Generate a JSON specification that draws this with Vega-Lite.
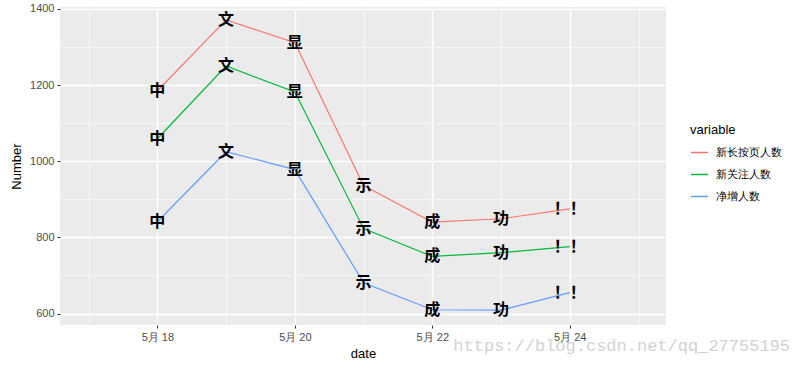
{
  "$schema": "https://vega.github.io/schema/vega-lite/v6.json",
  "width": 606,
  "height": 318,
  "autosize": {"type": "none"},
  "padding": {"left": 60, "top": 7, "right": 135, "bottom": 40},
  "title": {
    "text": "https://blog.csdn.net/qq_27755195",
    "orient": "bottom",
    "anchor": "end",
    "frame": "group",
    "font": "Liberation Mono",
    "fontSize": 17,
    "fontWeight": "normal",
    "color": "#D2D2D2",
    "dx": 124,
    "dy": -22,
    "offset": 0
  },
  "config": {
    "font": "Liberation Sans",
    "view": {"fill": "#EBEBEB", "stroke": null},
    "axis": {
      "domain": false,
      "gridColor": "#FFFFFF",
      "labelColor": "#4D4D4D",
      "labelFontSize": 11,
      "titleFontSize": 13,
      "titleColor": "#000000",
      "titleFontWeight": "normal",
      "tickColor": "#333333",
      "tickSize": 3,
      "labelPadding": 3
    }
  },
  "data": {
    "values": [
      {"date": "2018-05-18", "variable": "新长按页人数", "Number": 1185, "label": "中"},
      {"date": "2018-05-19", "variable": "新长按页人数", "Number": 1371, "label": "文"},
      {"date": "2018-05-20", "variable": "新长按页人数", "Number": 1311, "label": "显"},
      {"date": "2018-05-21", "variable": "新长按页人数", "Number": 936, "label": "示"},
      {"date": "2018-05-22", "variable": "新长按页人数", "Number": 840, "label": "成"},
      {"date": "2018-05-23", "variable": "新长按页人数", "Number": 849, "label": "功"},
      {"date": "2018-05-24", "variable": "新长按页人数", "Number": 875, "label": "！！"},
      {"date": "2018-05-18", "variable": "新关注人数", "Number": 1059, "label": "中"},
      {"date": "2018-05-19", "variable": "新关注人数", "Number": 1250, "label": "文"},
      {"date": "2018-05-20", "variable": "新关注人数", "Number": 1182, "label": "显"},
      {"date": "2018-05-21", "variable": "新关注人数", "Number": 823, "label": "示"},
      {"date": "2018-05-22", "variable": "新关注人数", "Number": 750, "label": "成"},
      {"date": "2018-05-23", "variable": "新关注人数", "Number": 760, "label": "功"},
      {"date": "2018-05-24", "variable": "新关注人数", "Number": 776, "label": "！！"},
      {"date": "2018-05-18", "variable": "净增人数", "Number": 841, "label": "中"},
      {"date": "2018-05-19", "variable": "净增人数", "Number": 1025, "label": "文"},
      {"date": "2018-05-20", "variable": "净增人数", "Number": 978, "label": "显"},
      {"date": "2018-05-21", "variable": "净增人数", "Number": 681, "label": "示"},
      {"date": "2018-05-22", "variable": "净增人数", "Number": 610, "label": "成"},
      {"date": "2018-05-23", "variable": "净增人数", "Number": 609, "label": "功"},
      {"date": "2018-05-24", "variable": "净增人数", "Number": 655, "label": "！！"}
    ]
  },
  "encoding": {
    "x": {
      "field": "date",
      "type": "temporal",
      "scale": {
        "type": "utc",
        "domain": [
          {"year": 2018, "month": 5, "date": 16, "hours": 14, "minutes": 0, "utc": true},
          {"year": 2018, "month": 5, "date": 25, "hours": 9, "minutes": 36, "utc": true}
        ]
      },
      "axis": {
        "title": "date",
        "values": [
          {"year": 2018, "month": 5, "date": 17, "utc": true},
          {"year": 2018, "month": 5, "date": 18, "utc": true},
          {"year": 2018, "month": 5, "date": 19, "utc": true},
          {"year": 2018, "month": 5, "date": 20, "utc": true},
          {"year": 2018, "month": 5, "date": 21, "utc": true},
          {"year": 2018, "month": 5, "date": 22, "utc": true},
          {"year": 2018, "month": 5, "date": 23, "utc": true},
          {"year": 2018, "month": 5, "date": 24, "utc": true},
          {"year": 2018, "month": 5, "date": 25, "utc": true}
        ],
        "labelExpr": "utcdate(datum.value) % 2 == 0 ? '5月 ' + utcdate(datum.value) : ''",
        "gridWidth": {"condition": {"test": "utcdate(datum.value) % 2 == 0", "value": 1.4}, "value": 0.6},
        "tickOpacity": {"condition": {"test": "utcdate(datum.value) % 2 == 0", "value": 1}, "value": 0},
        "titlePadding": 5
      }
    },
    "y": {
      "field": "Number",
      "type": "quantitative",
      "scale": {"domain": [570, 1405], "nice": false, "zero": false},
      "axis": {
        "title": "Number",
        "values": [600, 700, 800, 900, 1000, 1100, 1200, 1300, 1400],
        "labelExpr": "datum.value % 200 == 0 ? datum.value : ''",
        "gridWidth": {"condition": {"test": "datum.value % 200 == 0", "value": 1.4}, "value": 0.6},
        "tickOpacity": {"condition": {"test": "datum.value % 200 == 0", "value": 1}, "value": 0},
        "titlePadding": 6
      }
    }
  },
  "layer": [
    {
      "mark": {"type": "line", "strokeWidth": 1.2},
      "encoding": {
        "color": {
          "field": "variable",
          "type": "nominal",
          "scale": {
            "domain": ["新长按页人数", "新关注人数", "净增人数"],
            "range": ["#F8766D", "#00BA38", "#619CFF"]
          },
          "legend": {
            "title": "variable",
            "orient": "none",
            "legendX": 630,
            "legendY": 117,
            "titleFontSize": 13,
            "titleFontWeight": "normal",
            "titleColor": "#000000",
            "labelFontSize": 11,
            "labelColor": "#000000",
            "labelOffset": 7,
            "symbolType": "stroke",
            "symbolStrokeWidth": 1.5,
            "symbolSize": 289,
            "rowPadding": 7,
            "titlePadding": 6
          }
        }
      }
    },
    {
      "mark": {
        "type": "text",
        "font": "Noto Sans CJK SC",
        "fontWeight": "bold",
        "fontSize": 16,
        "color": "#000000",
        "align": "center",
        "baseline": "middle"
      },
      "encoding": {
        "text": {"field": "label", "type": "nominal"}
      }
    }
  ]
}
